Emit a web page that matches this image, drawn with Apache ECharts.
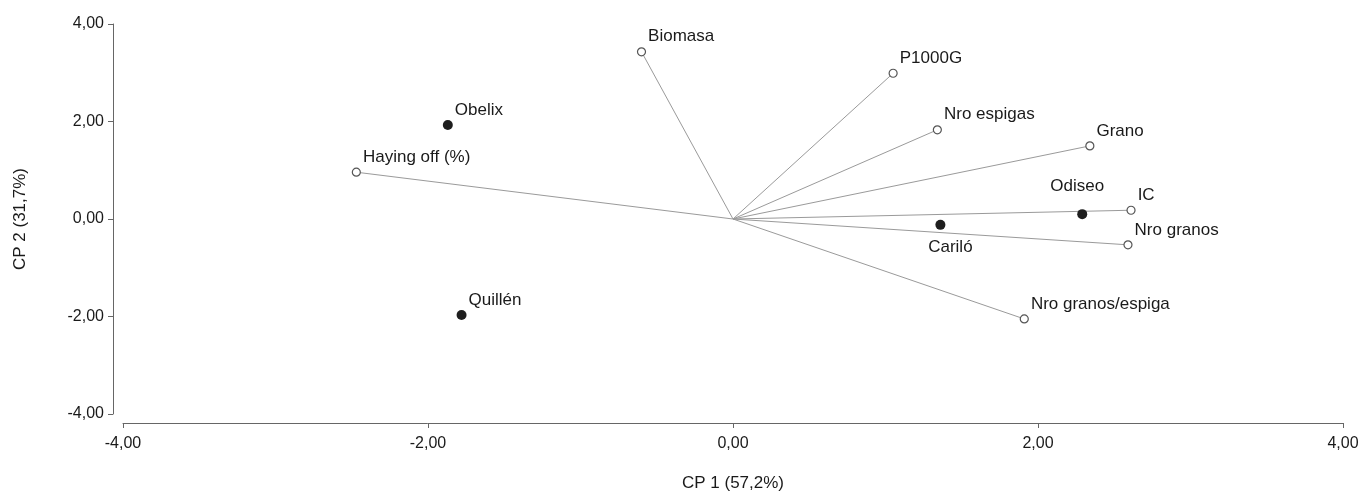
<!DOCTYPE html>
<html>
<head>
<meta charset="utf-8">
<script src="https://cdn.jsdelivr.net/npm/echarts@6/dist/echarts.min.js"></script>
<style>
  html, body { margin: 0; padding: 0; background: #fff; }
  #chart { width: 1363px; height: 492px; }
</style>
</head>
<body>
<div id="chart"></div>
<script>
// variables (vectors from the origin)
var varNames = ['Biomasa', 'P1000G', 'Nro espigas', 'Grano', 'IC', 'Nro granos', 'Nro granos/espiga', 'Haying off (%)'];
var varX = [-0.60, 1.05, 1.34, 2.34, 2.61, 2.59, 1.91, -2.47];
var varY = [3.43, 2.99, 1.83, 1.50, 0.18, -0.53, -2.05, 0.96];

// cultivars
var cultNames = ['Obelix', 'Quillén', 'Odiseo', 'Cariló'];
var cultX = [-1.87, -1.78, 2.29, 1.36];
var cultY = [1.93, -1.97, 0.10, -0.12];

var ticks = [-4, -2, 0, 2, 4];

var font = 'Liberation Sans, Arial, sans-serif';
var textColor = '#1a1a1a';

function fmt(v) {
	return v.toFixed(2).replace('.', ',');
}

// label placement for points that are not labelled above-right
var labelPlace = {
	'Odiseo': { position: 'top', distance: 23, offset: [-5, 0], align: 'center' },
	'Cariló': { position: 'bottom', distance: 17, offset: [10, 0], align: 'center' }
};

var vecLines = [], vecPoints = [], cultPoints = [];
for (var i = 0; i < varNames.length; i++) {
	vecLines.push({ coords: [[0, 0], [varX[i], varY[i]]] });
	vecPoints.push({ name: varNames[i], value: [varX[i], varY[i]] });
}
for (var j = 0; j < cultNames.length; j++) {
	var p = { name: cultNames[j], value: [cultX[j], cultY[j]] };
	if (labelPlace[cultNames[j]]) p.label = labelPlace[cultNames[j]];
	cultPoints.push(p);
}

var baseLabel = {
	show: true,
	formatter: '{b}',
	position: 'right',
	distance: 2,
	offset: [0, -15],
	align: 'left',
	verticalAlign: 'middle',
	color: textColor,
	opacity: 1,
	fontSize: 17,
	fontFamily: font
};

var axisCommon = {
	type: 'value',
	min: ticks[0],
	max: ticks[ticks.length - 1],
	interval: 2,
	splitLine: { show: false },
	axisLine: { show: true, onZero: false, lineStyle: { color: '#666', width: 1 } },
	axisTick: { show: true, length: 5, lineStyle: { color: '#666' } },
	nameLocation: 'middle',
	nameTextStyle: { color: textColor, fontSize: 17, fontFamily: font }
};

var chart = echarts.init(document.getElementById('chart'));
var option = {
	animation: false,
	backgroundColor: '#fff',
	grid: { left: 123, right: 20, top: 24, bottom: 78, containLabel: false, outerBoundsMode: 'none' },
	xAxis: Object.assign({}, axisCommon, {
		name: 'CP 1 (57,2%)',
		nameGap: 52,
		offset: 9,
		axisLabel: { formatter: fmt, margin: 13, color: textColor, fontSize: 16, fontFamily: font }
	}),
	yAxis: Object.assign({}, axisCommon, {
		name: 'CP 2 (31,7%)',
		nameGap: 84,
		offset: 10,
		axisLabel: { formatter: fmt, margin: 9, color: textColor, fontSize: 16, fontFamily: font }
	}),
	series: [
		{
			type: 'lines',
			coordinateSystem: 'cartesian2d',
			z: 1,
			silent: true,
			lineStyle: { color: '#9a9a9a', width: 1, opacity: 1 },
			data: vecLines
		},
		{
			type: 'scatter',
			z: 3,
			symbol: 'circle',
			symbolSize: 8,
			itemStyle: { color: '#fff', borderColor: '#555', borderWidth: 1.2, opacity: 1 },
			label: baseLabel,
			data: vecPoints
		},
		{
			type: 'scatter',
			z: 3,
			symbol: 'circle',
			symbolSize: 10,
			itemStyle: { color: '#1e1e1e', opacity: 1 },
			label: baseLabel,
			data: cultPoints
		}
	]
};
chart.setOption(option);
</script>
</body>
</html>
